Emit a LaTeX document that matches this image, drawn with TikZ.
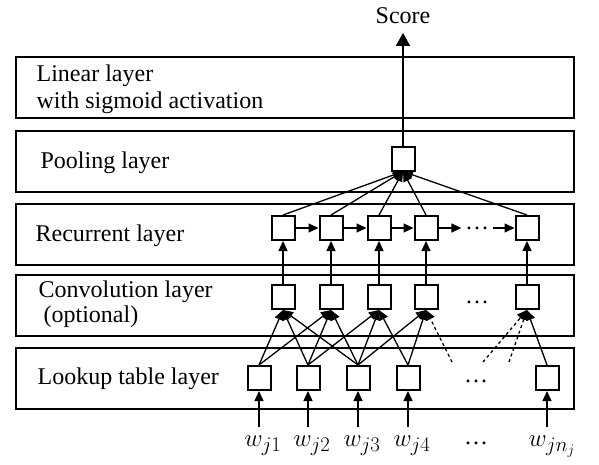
\documentclass[tikz,border=0pt]{standalone}
\usepackage{fontspec}
\setmainfont{Liberation Serif}
\usetikzlibrary{arrows.meta}

\tikzset{
    layer/.style={draw, line width=2pt, minimum width=558pt, minimum height=61pt, inner sep=0pt},
    unit/.style={draw, line width=2pt, fill=white, minimum width=23pt, minimum height=24pt, inner sep=0pt},
    txt/.style={inner sep=0pt, anchor=base west, font=\fontsize{24}{27}\selectfont},
    word/.style={inner sep=1pt, font=\fontsize{24}{27}\selectfont},
    input/.style={inner sep=1pt, anchor=base, font=\fontsize{31}{34}\selectfont},
    feed/.style={->, shorten <=7pt},
}

\begin{document}
\begin{tikzpicture}[x=1pt, y=-1pt, line width=1.3pt, >={Triangle[length=10pt,width=9pt]}]
        \useasboundingbox (0,0) rectangle (599,464);

        \node[layer] (lin) at (295,87.5) {};
        \node[layer] (pool) at (295,161) {};
        \node[layer] (rec) at (295,234) {};
        \node[layer] (conv) at (295,305) {};
        \node[layer] (look) at (295,378) {};

        \node[txt] (linA) at (36,81) {Linear layer};
        \node[txt] (linB) at (36,108) {with sigmoid activation};
        \node[txt] (poolT) at (40,168.5) {Pooling layer};
        \node[txt] (recT) at (35,241.5) {Recurrent layer};
        \node[txt] (convA) at (38,297) {Convolution layer};
        \node[txt] (convB) at (43,322) {(optional)};
        \node[txt] (lookT) at (37,384.5) {Lookup table layer};

        \node[unit] (P) at (403,158.5) {};

        \node[unit] (R1) at (283,228) {};
        \node[unit] (R2) at (331,228) {};
        \node[unit] (R3) at (379,228) {};
        \node[unit] (R4) at (426,228) {};
        \node[word, inner sep=3pt] (Rd) at (477,228) {\dots};
        \node[unit] (Rn) at (527,228) {};

        \node[unit] (C1) at (283,297) {};
        \node[unit] (C2) at (331,297) {};
        \node[unit] (C3) at (379,297) {};
        \node[unit] (C4) at (426,297) {};
        \node[word] (Cd) at (477,302) {\dots};
        \node[unit] (Cn) at (527,297) {};

        \node[unit] (L1) at (259,378) {};
        \node[unit] (L2) at (308,378) {};
        \node[unit] (L3) at (358,378) {};
        \node[unit] (L4) at (408,378) {};
        \node[word] (Ld) at (476,381) {\dots};
        \node[unit] (Ln) at (547,378) {};

        \node[input] (W1) at (263,446) {$w_{j1}$};
        \node[input] (W2) at (312,446) {$w_{j2}$};
        \node[input] (W3) at (362,446) {$w_{j3}$};
        \node[input] (W4) at (412,446) {$w_{j4}$};
        \node[word] (Wd) at (476,443) {\dots};
        \node[input] (Wn) at (552,446) {$w_{jn_j}$};

        \node[word, anchor=base] (S) at (403,23) {Score};

        \coordinate (d4) at (452,362);
        \coordinate (dn1) at (483,362);
        \coordinate (dn2) at (509,362);

        % score
        \draw[->, >={Triangle[length=13pt,width=14pt]}, shorten >=8pt] (P) -- (S);

        % pooling
        \draw[->] (R1.north) -- (P.south);
        \draw[->] (R2.north) -- (P.south);
        \draw[->] (R3.north) -- (P.south);
        \draw[->] (R4.north) -- (P.south);
        \draw[->] (Rn.north) -- (P.south);

        % recurrent
        \draw[->] (R1) -- (R2);
        \draw[->] (R2) -- (R3);
        \draw[->] (R3) -- (R4);
        \draw[->] (R4) -- (Rd);
        \draw[->] (Rd) -- (Rn);

        \draw[->] (C1) -- (R1);
        \draw[->] (C2) -- (R2);
        \draw[->] (C3) -- (R3);
        \draw[->] (C4) -- (R4);
        \draw[->] (Cn) -- (Rn);

        % convolution window
        \draw[->] (L1.north) -- (C1.south);
        \draw[->] (L2.north) -- (C1.south);
        \draw[->] (L3.north) -- (C1.south);
        \draw[->] (L1.north) -- (C2.south);
        \draw[->] (L2.north) -- (C2.south);
        \draw[->] (L3.north) -- (C2.south);
        \draw[->] (L2.north) -- (C3.south);
        \draw[->] (L3.north) -- (C3.south);
        \draw[->] (L4.north) -- (C3.south);
        \draw[->] (L3.north) -- (C4.south);
        \draw[->] (L4.north) -- (C4.south);
        \draw[->, dashed] (d4) -- (C4.south);
        \draw[->, dashed] (dn1) -- (Cn.south);
        \draw[->, dashed] (dn2) -- (Cn.south);
        \draw[->] (Ln.north) -- (Cn.south);

        % input words
        \draw[feed] (W1.north -| L1) -- (L1);
        \draw[feed] (W2.north -| L2) -- (L2);
        \draw[feed] (W3.north -| L3) -- (L3);
        \draw[feed] (W4.north -| L4) -- (L4);
        \draw[feed] (Wn.north -| Ln) -- (Ln);
    \end{tikzpicture}
\end{document}
